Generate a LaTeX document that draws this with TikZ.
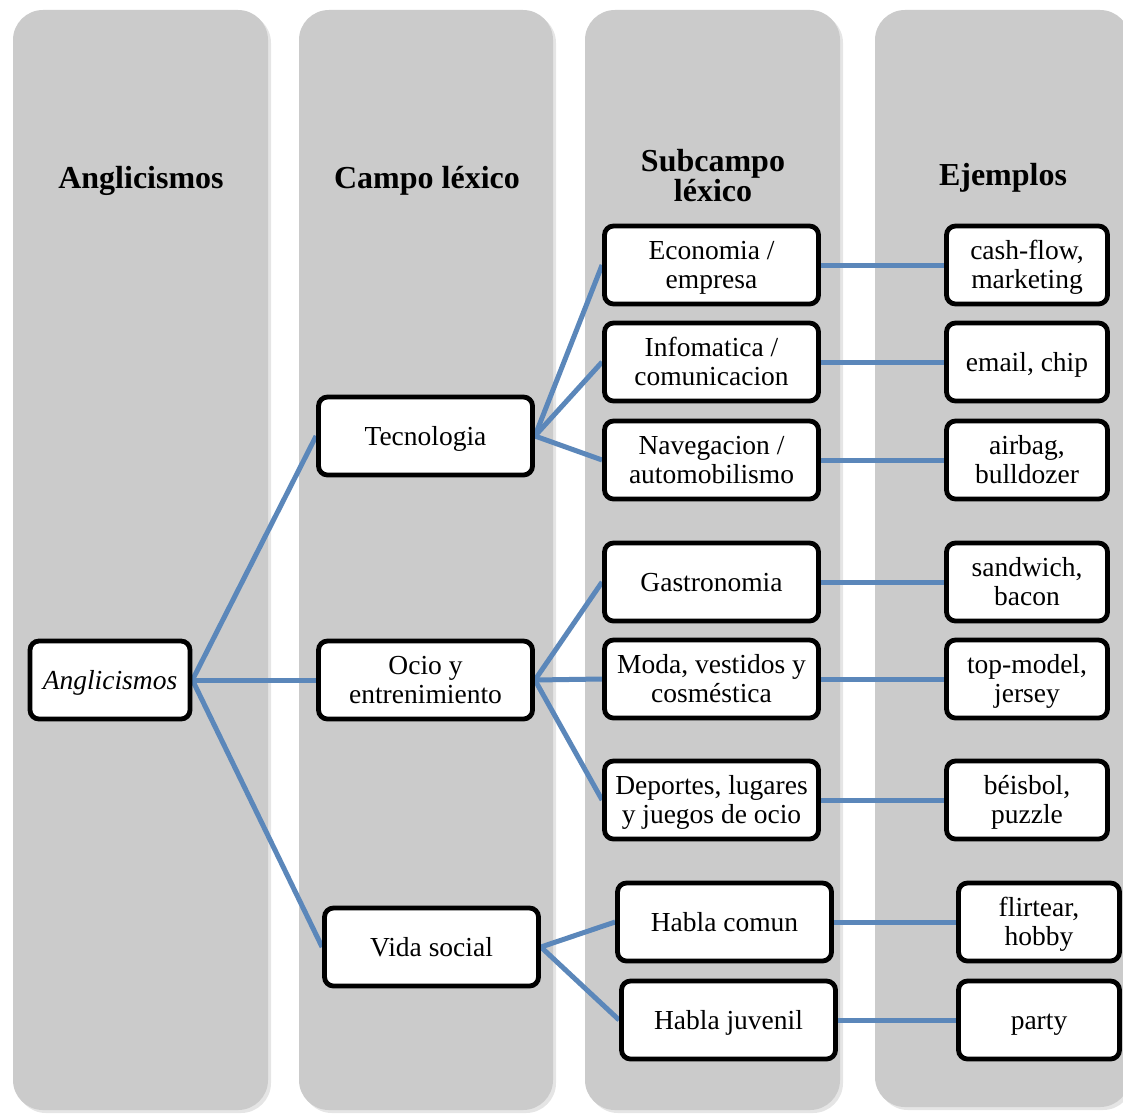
\documentclass[tikz,border=0pt]{standalone}
\usepackage{fontspec}
\setmainfont{Liberation Serif}
\pgfdeclarelayer{back}
\pgfdeclarelayer{mid}
\pgfsetlayers{back,mid,main}
\definecolor{colgray}{HTML}{CBCBCB}
\definecolor{linkblue}{HTML}{5B87BA}
\tikzset{
  boxlift/.store in=\boxlift, boxlift=0pt,
  column/.style={fill=colgray, rounded corners=30pt},
  colshadow/.style={fill=black, opacity=0.10, rounded corners=30pt},
  header/.style={font=\fontsize{32}{30}\selectfont\bfseries, align=center, inner sep=0pt},
  termbox/.style={draw=black, line width=4.8pt, rounded corners=9pt, fill=white,
    align=center, inner sep=0pt, minimum width=214pt, minimum height=78pt,
    font=\fontsize{27.5}{29}\selectfont,
    execute at begin node={\rule{0pt}{\dimexpr0.891em+\boxlift\relax}},
    execute at end node={\rule[-0.216em]{0pt}{0.216em}}},
  twolines/.style={boxlift=29pt},
  rootbox/.style={termbox, minimum width=160pt},
  exbox/.style={termbox, minimum width=161pt},
  link/.style={draw=linkblue, line width=5pt}
}
\begin{document}
\begin{tikzpicture}[x=1pt,y=-1pt]
\useasboundingbox (0,0) rectangle (1123,1113);

% page and column backgrounds
\begin{pgfonlayer}{back}
  \fill[white] (0,0) rectangle (1123,1113);
  \foreach \xa/\xb/\yb in {13/268/1110, 299/553/1110, 585/840/1110, 875/1130/1107}{
    \fill[colshadow] (\xa+3,13) rectangle (\xb+3,\yb+3);
    \fill[column] (\xa,10) rectangle (\xb,\yb);
  }
\end{pgfonlayer}

% column headers
\node[header] (h1) at (141,181) {Anglicismos};
\node[header] (h2) at (427,181) {Campo léxico};
\node[header] (h3) at (713,176) {Subcampo\\léxico};
\node[header] (h4) at (1003,178) {Ejemplos};

% root
\node[rootbox] (root) at (110,680) {\itshape Anglicismos};

% lexical fields
\node[termbox] (tec) at (425.5,436) {Tecnologia};
\node[termbox, twolines] (ocio) at (425.5,680) {Ocio y\\entrenimiento};
\node[termbox] (vida) at (431.5,947) {Vida social};

% lexical subfields
\node[termbox, twolines] (eco) at (711.5,265) {Economia /\\empresa};
\node[termbox, twolines] (inf) at (711.5,362) {Infomatica /\\comunicacion};
\node[termbox, twolines] (nav) at (711.5,460) {Navegacion /\\automobilismo};
\node[termbox] (gas) at (711.5,582) {Gastronomia};
\node[termbox, twolines] (moda) at (711.5,679) {Moda, vestidos y\\cosméstica};
\node[termbox, twolines] (dep) at (711.5,800) {Deportes, lugares\\y juegos de ocio};
\node[termbox] (com) at (724.5,922) {Habla comun};
\node[termbox] (juv) at (728.5,1020) {Habla juvenil};

% examples
\node[exbox, twolines] (ex1) at (1027,265) {cash-flow,\\marketing};
\node[exbox] (ex2) at (1027,362) {email, chip};
\node[exbox, twolines] (ex3) at (1027,460) {airbag,\\bulldozer};
\node[exbox, twolines] (ex4) at (1027,582) {sandwich,\\bacon};
\node[exbox, twolines] (ex5) at (1027,679) {top-model,\\jersey};
\node[exbox, twolines] (ex6) at (1027,800) {béisbol,\\puzzle};
\node[exbox, twolines] (ex7) at (1039,922) {flirtear,\\hobby};
\node[exbox] (ex8) at (1039,1020) {party};

% connectors
\begin{pgfonlayer}{mid}
  \foreach \a/\b in {root/tec, root/ocio, root/vida,
                     tec/eco, tec/inf, tec/nav,
                     ocio/gas, ocio/moda, ocio/dep,
                     vida/com, vida/juv,
                     eco/ex1, inf/ex2, nav/ex3, gas/ex4,
                     moda/ex5, dep/ex6, com/ex7, juv/ex8}{
    \draw[link] (\a.east) -- (\b.west);
  }
\end{pgfonlayer}
\end{tikzpicture}
\end{document}
